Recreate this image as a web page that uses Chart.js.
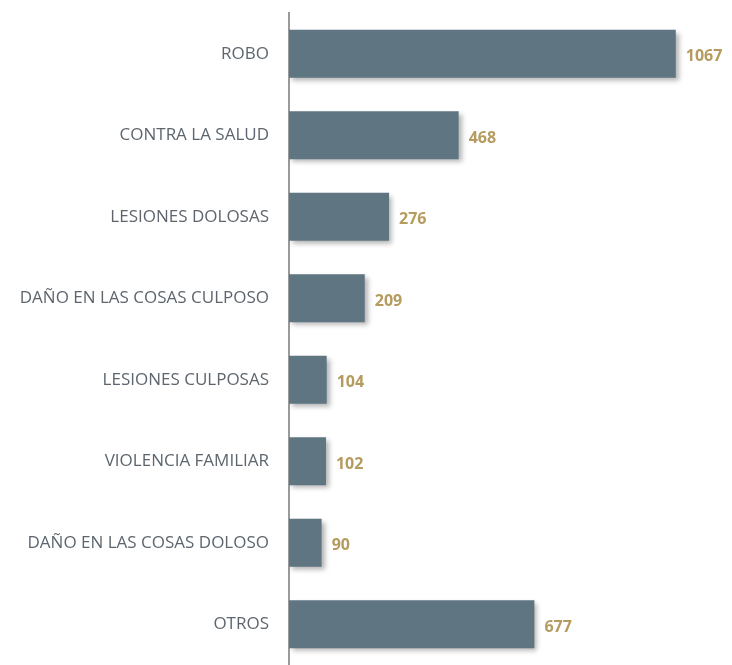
<!DOCTYPE html>
<html>
<head>
<meta charset="utf-8">
<script src="https://cdn.jsdelivr.net/npm/chart.js@4"></script>
<style>
  html, body { margin: 0; padding: 0; background: #fff; }
  #wrap { width: 732px; height: 665px; }
</style>
</head>
<body>
<div id="wrap"><canvas id="chart" width="732" height="665"></canvas></div>
<script>
/* categories and counts */
var categorias = [
  "ROBO",
  "CONTRA LA SALUD",
  "LESIONES DOLOSAS",
  "DAÑO EN LAS COSAS CULPOSO",
  "LESIONES CULPOSAS",
  "VIOLENCIA FAMILIAR",
  "DAÑO EN LAS COSAS DOLOSO",
  "OTROS"
];
var valores = [1067, 468, 276, 209, 104, 102, 90, 677];

/* drop shadow under the bars */
var sombra = {
  id: "sombra",
  beforeDatasetsDraw: function (chart) {
    var ctx = chart.ctx;
    ctx.save();
    ctx.shadowColor = "rgba(0,0,0,0.3)";
    ctx.shadowBlur = 5;
    ctx.shadowOffsetX = 3;
    ctx.shadowOffsetY = 3;
  },
  afterDatasetsDraw: function (chart) {
    chart.ctx.restore();
  }
};

/* value labels at the end of each bar */
var etiquetas = {
  id: "etiquetas",
  afterDatasetsDraw: function (chart) {
    var ctx = chart.ctx;
    var meta = chart.getDatasetMeta(0);
    ctx.save();
    ctx.font = "bold 16px 'Open Sans', sans-serif";
    ctx.fillStyle = "#b59b5e";
    ctx.textAlign = "left";
    ctx.textBaseline = "middle";
    meta.data.forEach(function (bar, i) {
      ctx.fillText(valores[i], bar.x + 10, bar.y + 3);
    });
    ctx.restore();
  }
};

var ctx = document.getElementById("chart");
var myChart = new Chart(ctx, {
  type: "bar",
  data: {
    labels: categorias,
    datasets: [
      {
        data: valores,
        backgroundColor: "#5f7582",
        borderWidth: 0,
        categoryPercentage: 1,
        barPercentage: 0.59
      }
    ]
  },
  options: {
    indexAxis: "y",
    responsive: false,
    animation: false,
    layout: { padding: { top: 13, right: 8, bottom: 0, left: 0 } },
    plugins: {
      legend: { display: false },
      tooltip: { enabled: false }
    },
    scales: {
      x: {
        display: false,
        min: 0,
        max: 1200
      },
      y: {
        grid: { display: false, drawTicks: false },
        border: { display: true, color: "#9a9a9a", width: 2 },
        afterFit: function (scale) {
          scale.width = 289;
          scale.paddingTop = 0;
          scale.paddingBottom = 0;
        },
        ticks: {
          padding: 20,
          color: "#5d666e",
          font: { family: "'Open Sans', sans-serif", size: 17 }
        }
      }
    }
  },
  plugins: [sombra, etiquetas]
});
</script>
</body>
</html>
